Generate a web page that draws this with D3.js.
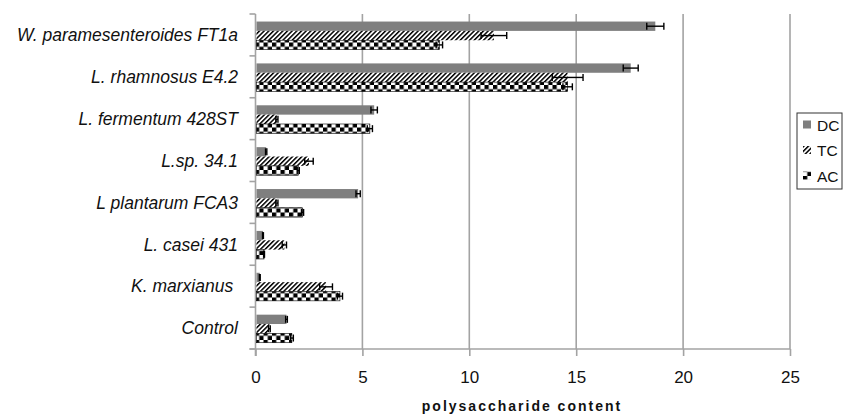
<!DOCTYPE html>
<html>
<head>
<meta charset="utf-8">
<script src="https://cdn.jsdelivr.net/npm/d3@7/dist/d3.min.js"></script>
<style>
  body { margin: 0; background: #fff; }
  svg { display: block; font-family: "Liberation Sans", Arial, sans-serif; }
</style>
</head>
<body>
<div id="chart"><svg width="847" height="416"></svg></div>
<script>
// strains, top to bottom
const categories = [
    "W. paramesenteroides FT1a",
    "L. rhamnosus E4.2",
    "L. fermentum 428ST",
    "L.sp. 34.1",
    "L plantarum FCA3",
    "L. casei 431",
    "K. marxianus ",
    "Control"
];
const seriesNames = ["DC", "TC", "AC"];

const dcValues = [18.7, 17.55, 5.55, 0.5, 4.8, 0.35, 0.2, 1.45];
const dcErrors = [0.4, 0.35, 0.15, 0.03, 0.1, 0.02, 0.02, 0.04];
const tcValues = [11.15, 14.6, 1.0, 2.5, 1.0, 1.35, 3.3, 0.65];
const tcErrors = [0.6, 0.72, 0.05, 0.2, 0.05, 0.1, 0.3, 0.04];
const acValues = [8.6, 14.6, 5.35, 2.0, 2.2, 0.4, 3.95, 1.7];
const acErrors = [0.15, 0.22, 0.12, 0.05, 0.05, 0.02, 0.12, 0.07];

const xTicks = [0, 5, 10, 15, 20, 25];

const svg = d3.select("#chart svg");
const margin = {left: 255.5, right: 790, top: 14, bottom: 349};

const x = d3.scaleLinear().domain([0, 25]).range([margin.left, margin.right]);
const y0 = d3.scaleBand().domain(categories).range([margin.top, margin.bottom]);
const y1 = d3.scaleBand().domain(seriesNames)
    .range([y0.bandwidth() * 0.18, y0.bandwidth() * 0.85]);

// patterns
const defs = svg.append("defs");
const hatch = defs.append("pattern")
    .attr("id", "hatch").attr("patternUnits", "userSpaceOnUse")
    .attr("width", 3.3).attr("height", 3.3)
    .attr("patternTransform", "rotate(45)");
hatch.append("rect").attr("width", 3.3).attr("height", 3.3).attr("fill", "#fff");
hatch.append("rect").attr("width", 1.5).attr("height", 3.3).attr("fill", "#000");

const checker = defs.append("pattern")
    .attr("id", "checker").attr("patternUnits", "userSpaceOnUse")
    .attr("width", 8.5).attr("height", 8.5);
checker.append("rect").attr("width", 8.5).attr("height", 8.5).attr("fill", "#fff");
checker.append("rect").attr("width", 4.25).attr("height", 4.25).attr("fill", "#000");
checker.append("rect").attr("x", 4.25).attr("y", 4.25).attr("width", 4.25).attr("height", 4.25).attr("fill", "#000");

const fills = {DC: "#7f7f7f", TC: "url(#hatch)", AC: "url(#checker)"};

// gridlines
svg.append("g").selectAll("line")
    .data(xTicks.filter(d => d > 0))
    .join("line")
    .attr("x1", d => x(d)).attr("x2", d => x(d))
    .attr("y1", margin.top).attr("y2", margin.bottom)
    .attr("stroke", "#a3a3a3").attr("stroke-width", 1.6);

// bottom axis
const xAxis = d3.axisBottom(x).tickValues(xTicks).tickSize(7).tickPadding(15);
const gx = svg.append("g")
    .attr("transform", "translate(0," + margin.bottom + ")")
    .call(xAxis);
gx.select(".domain").attr("stroke", "#a3a3a3").attr("stroke-width", 1.6)
    .attr("d", "M" + (margin.left - 6) + ",0H" + margin.right);
gx.selectAll(".tick line").attr("stroke", "#a3a3a3").attr("stroke-width", 1.6);
gx.selectAll(".tick text")
    .attr("font-size", 17).attr("fill", "#111")
    .attr("font-family", "'Liberation Sans', Arial, sans-serif");

// left axis: line with ticks at band edges
const edges = categories.map(c => y0(c)).concat([margin.bottom]);
svg.append("line")
    .attr("x1", margin.left).attr("x2", margin.left)
    .attr("y1", margin.top).attr("y2", margin.bottom + 7)
    .attr("stroke", "#a3a3a3").attr("stroke-width", 1.6);
svg.append("g").selectAll("line")
    .data(edges)
    .join("line")
    .attr("x1", margin.left - 6).attr("x2", margin.left)
    .attr("y1", d => d).attr("y2", d => d)
    .attr("stroke", "#a3a3a3").attr("stroke-width", 1.6);

svg.append("g").selectAll("text")
    .data(categories)
    .join("text")
    .attr("x", 238)
    .attr("y", d => y0(d) + y0.bandwidth() / 2)
    .attr("dy", "0.36em")
    .attr("text-anchor", "end")
    .attr("font-size", 17.5)
    .attr("font-style", "italic")
    .attr("fill", "#111")
    .style("white-space", "pre")
    .text(d => d);

// bars
const rows = [];
categories.forEach((c, i) => {
    rows.push({cat: c, s: "DC", v: dcValues[i], e: dcErrors[i]});
    rows.push({cat: c, s: "TC", v: tcValues[i], e: tcErrors[i]});
    rows.push({cat: c, s: "AC", v: acValues[i], e: acErrors[i]});
});

svg.append("g").selectAll("rect")
    .data(rows)
    .join("rect")
    .attr("x", x(0) + 1)
    .attr("y", d => y0(d.cat) + y1(d.s))
    .attr("width", d => x(d.v) - x(0) - 1)
    .attr("height", y1.bandwidth())
    .attr("fill", d => fills[d.s])
    .attr("stroke", d => d.s === "AC" ? "#000" : "none")
    .attr("stroke-width", 0.6);

// error bars
const err = svg.append("g").attr("stroke", "#000").attr("stroke-width", 1.4);
err.selectAll("line.h")
    .data(rows)
    .join("line").attr("class", "h")
    .attr("x1", d => x(d.v - d.e)).attr("x2", d => x(d.v + d.e))
    .attr("y1", d => y0(d.cat) + y1(d.s) + y1.bandwidth() / 2)
    .attr("y2", d => y0(d.cat) + y1(d.s) + y1.bandwidth() / 2);
["-", "+"].forEach(sign => {
    err.selectAll("line.c" + (sign === "-" ? "l" : "r"))
        .data(rows)
        .join("line").attr("class", "c" + (sign === "-" ? "l" : "r"))
        .attr("x1", d => x(sign === "-" ? d.v - d.e : d.v + d.e))
        .attr("x2", d => x(sign === "-" ? d.v - d.e : d.v + d.e))
        .attr("y1", d => y0(d.cat) + y1(d.s) + y1.bandwidth() / 2 - 3.5)
        .attr("y2", d => y0(d.cat) + y1(d.s) + y1.bandwidth() / 2 + 3.5);
});

// axis title
svg.append("text")
    .attr("x", 522).attr("y", 411)
    .attr("text-anchor", "middle")
    .attr("font-size", 14).attr("font-weight", "bold")
    .attr("letter-spacing", 2)
    .attr("fill", "#111")
    .text("polysaccharide content");

// legend
const legend = svg.append("g").attr("transform", "translate(797,113)");
legend.append("rect")
    .attr("width", 45).attr("height", 76)
    .attr("fill", "#fff").attr("stroke", "#333").attr("stroke-width", 1);
const item = legend.selectAll("g.item")
    .data(seriesNames)
    .join("g").attr("class", "item")
    .attr("transform", (d, i) => "translate(6," + (12 + i * 25.5) + ")");
item.append("rect")
    .attr("y", -4.5).attr("width", 8).attr("height", 8)
    .attr("fill", d => fills[d]);
item.append("text")
    .attr("x", 14).attr("dy", "0.36em")
    .attr("font-size", 15.5).attr("fill", "#111")
    .text(d => d);
</script>
</body>
</html>
